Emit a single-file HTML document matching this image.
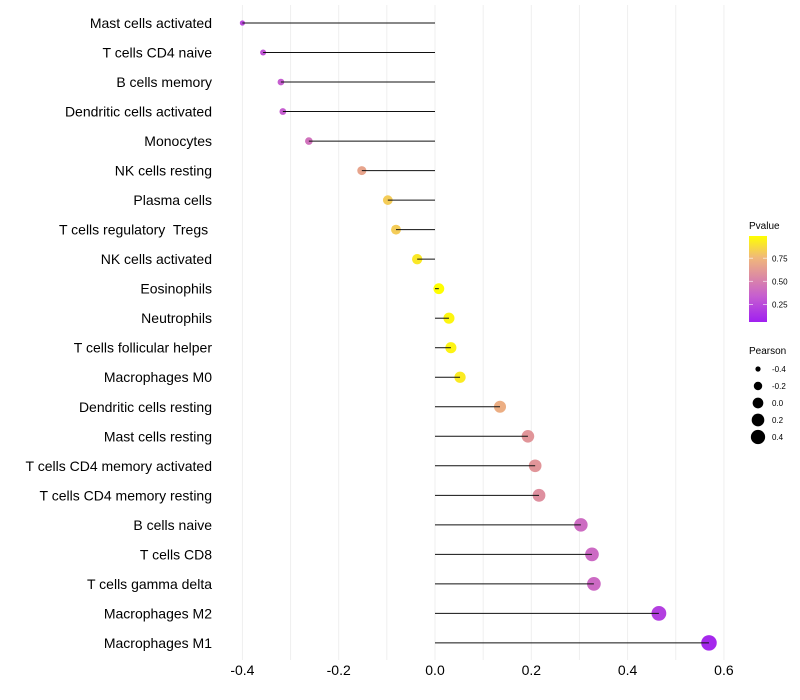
<!DOCTYPE html>
<html><head><meta charset="utf-8"><style>
body{margin:0;background:#fff;}
svg{display:block;font-family:"Liberation Sans",Arial,sans-serif;}
text{white-space:pre;}
</style></head><body>
<svg id="chart" width="800" height="700" viewBox="0 0 800 700">
<defs>
<linearGradient id="pg" x1="0" y1="1" x2="0" y2="0">
<stop offset="0" stop-color="#a020f0"/>
<stop offset="0.3" stop-color="#c65ed0"/>
<stop offset="0.5" stop-color="#da85a8"/>
<stop offset="0.75" stop-color="#f0b87a"/>
<stop offset="1" stop-color="#ffff00"/>
</linearGradient>
</defs>
<g id="grid"></g>
<g id="marks"></g>
<g id="ylabels"></g>
<g id="xlabels"></g>
<g>
<text x="749" y="229" font-size="10" fill="#000">Pvalue</text>
<rect x="749" y="236" width="18" height="86" fill="url(#pg)"/>
<g id="cbticks"></g>
</g>
<g id="sizeleg">
<text x="749" y="354" font-size="10" fill="#000">Pearson</text>
</g>
</svg>
<script>
const categories=["Mast cells activated","T cells CD4 naive","B cells memory","Dendritic cells activated","Monocytes","NK cells resting","Plasma cells","T cells regulatory  Tregs ","NK cells activated","Eosinophils","Neutrophils","T cells follicular helper","Macrophages M0","Dendritic cells resting","Mast cells resting","T cells CD4 memory activated","T cells CD4 memory resting","B cells naive","T cells CD8","T cells gamma delta","Macrophages M2","Macrophages M1"];
const pearson=[-0.40,-0.357,-0.32,-0.316,-0.262,-0.152,-0.098,-0.081,-0.037,0.008,0.029,0.033,0.052,0.135,0.193,0.208,0.216,0.303,0.326,0.330,0.465,0.569];
const pvalues=[0.2,0.25,0.3,0.3,0.4,0.65,0.82,0.82,0.92,1.0,0.97,0.96,0.93,0.7,0.58,0.58,0.55,0.37,0.36,0.36,0.15,0.04];
const xTicks=[-0.4,-0.2,0.0,0.2,0.4,0.6];
const xTickLabels=["-0.4","-0.2","0.0","0.2","0.4","0.6"];
const cbTicks=[0.25,0.5,0.75];
const sizeLegend=[-0.4,-0.2,0.0,0.2,0.4];

const NS="http://www.w3.org/2000/svg";
const x=v=>435+v*481.5;
const y=i=>23+i*29.52;
const r=v=>Math.sqrt(4+(v+0.45)/1.05*58);
const stops=[[0,[160,32,240]],[0.3,[198,94,208]],[0.5,[218,133,168]],[0.75,[240,184,122]],[1,[255,255,0]]];
function col(p){p=Math.max(0,Math.min(1,p));for(let k=1;k<stops.length;k++){if(p<=stops[k][0]){const a=stops[k-1],b=stops[k],t=(p-a[0])/(b[0]-a[0]);return "rgb("+a[1].map((c,j)=>Math.round(c+(b[1][j]-c)*t)).join(",")+")";}}return "yellow";}
function mk(tag,attrs,parent,txt){const e=document.createElementNS(NS,tag);for(const k in attrs)e.setAttribute(k,attrs[k]);if(txt!==undefined)e.textContent=txt;parent.appendChild(e);return e;}

const grid=document.getElementById('grid');
for(let v=-0.4;v<=0.601;v+=0.1){
  const g=mk('line',{x1:x(v),x2:x(v),y1:5,y2:660,stroke:'#efefef','stroke-width':1},grid);
  
  
}
const marks=document.getElementById('marks'),yl=document.getElementById('ylabels');
categories.forEach((c,i)=>{
  const yy=y(i);
  const p=mk('circle',{cx:x(pearson[i]),cy:yy,r:r(pearson[i]),fill:col(pvalues[i])},marks);
  
  
  const s=mk('line',{x1:x(0),x2:x(pearson[i]),y1:yy,y2:yy,stroke:'#111','stroke-width':1},marks);
  
  
  const t=mk('text',{x:212,y:yy+5,'text-anchor':'end','font-size':14,fill:'#000','xml:space':'preserve'},yl,c);
  
  
});
const xl=document.getElementById('xlabels');
xTicks.forEach((v,i)=>{
  const t=mk('text',{x:x(v),y:675,'text-anchor':'middle','font-size':14,fill:'#000'},xl,xTickLabels[i]);
  
  
});
const cb=document.getElementById('cbticks');
cbTicks.forEach(v=>{
  const yy=322-(v-0.05)/0.93*86+1;
  const l=mk('line',{x1:749,x2:753,y1:yy,y2:yy,stroke:'#fff','stroke-opacity':0.6},cb);
  
  
  const l2=mk('line',{x1:763,x2:767,y1:yy,y2:yy,stroke:'#fff','stroke-opacity':0.6},cb);
  
  
  const t=mk('text',{x:772,y:yy+3,'font-size':8,fill:'#000'},cb,v.toFixed(2));
  
  
});
const sl=document.getElementById('sizeleg');
sizeLegend.forEach((v,i)=>{
  const yy=369+i*17;
  const c=mk('circle',{cx:758,cy:yy,r:r(v),fill:'#000'},sl);
  
  
  const t=mk('text',{x:772,y:yy+3,'font-size':8,fill:'#000'},sl,v.toFixed(1));
  
  
});
</script>
</body></html>
